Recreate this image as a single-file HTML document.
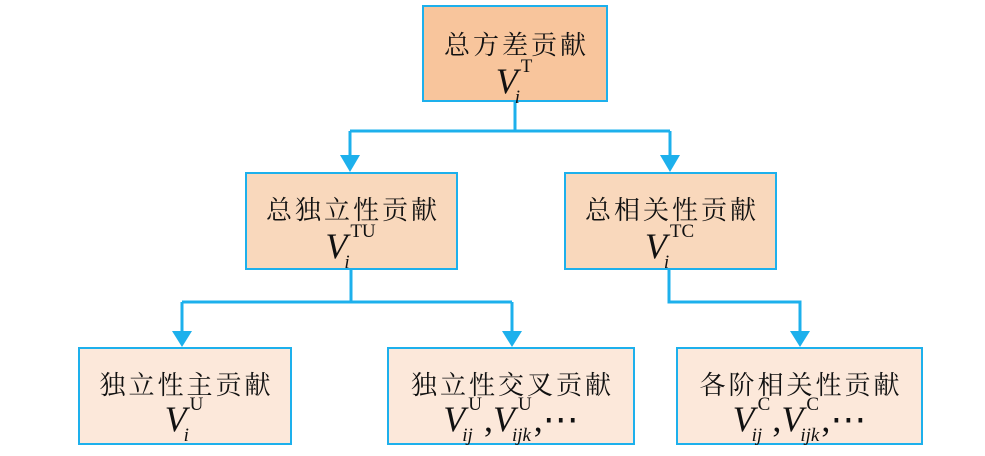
<!DOCTYPE html>
<html><head><meta charset="utf-8"><style>
body{margin:0;width:985px;height:456px;background:#fff;position:relative;overflow:hidden}
.b{position:absolute;box-sizing:border-box;border:2.5px solid #1DB0EC;text-align:center;font-family:"Noto Serif CJK SC","Liberation Serif",serif;color:#111}
.cn{position:absolute;left:0;right:0;font-size:26px;line-height:30px;letter-spacing:3px;text-indent:3px}
.m{position:absolute;left:0;right:0;font-family:"Liberation Serif",serif;font-size:36px;line-height:40px;white-space:nowrap}
.m i{font-style:italic}
.s{display:inline-block;vertical-align:top;text-align:left;position:relative;height:40px;font-size:19px;line-height:19px;margin-left:3px;margin-right:2px}
.s .u{display:block;margin-top:-4px;font-style:normal}
.s .d{display:block;margin-top:12px;font-style:italic;margin-left:-6px}
</style></head><body>
<svg width="985" height="456" style="position:absolute;left:0;top:0">
<g stroke="#1DB0EC" stroke-width="3" fill="none">
<path d="M515 102V131M350 131H670M350 131V158M670 131V158"/>
<path d="M351 270V302M182 302H512M182 302V333M512 302V333"/>
<path d="M669 270V302H800V333"/>
</g>
<g fill="#1DB0EC">
<path d="M340 155H360L350 172Z"/><path d="M660 155H680L670 172Z"/>
<path d="M172 331H192L182 347Z"/><path d="M502 331H522L512 347Z"/><path d="M790 331H810L800 347Z"/>
</g>
</svg>
<div class="b" style="left:422px;top:5px;width:186px;height:97px;background:#F8C59C">
<div class="cn" style="top:22px">总方差贡献</div>
<div class="m" style="top:54px"><i>V</i><span class="s"><span class="u">T</span><span class="d">i</span></span></div></div>
<div class="b" style="left:245px;top:172px;width:213px;height:98px;background:#F9D8BC">
<div class="cn" style="top:20px">总独立性贡献</div>
<div class="m" style="top:52px"><i>V</i><span class="s"><span class="u">TU</span><span class="d">i</span></span></div></div>
<div class="b" style="left:564px;top:172px;width:213px;height:98px;background:#F9D8BC">
<div class="cn" style="top:20px">总相关性贡献</div>
<div class="m" style="top:52px"><i>V</i><span class="s"><span class="u">TC</span><span class="d">i</span></span></div></div>
<div class="b" style="left:78px;top:347px;width:214px;height:98px;background:#FCE8DA">
<div class="cn" style="top:20px">独立性主贡献</div>
<div class="m" style="top:50px"><i>V</i><span class="s"><span class="u">U</span><span class="d">i</span></span></div></div>
<div class="b" style="left:387px;top:347px;width:248px;height:98px;background:#FCE8DA">
<div class="cn" style="top:20px">独立性交叉贡献</div>
<div class="m" style="top:50px"><i>V</i><span class="s"><span class="u">U</span><span class="d">ij</span></span>,<i>V</i><span class="s"><span class="u">U</span><span class="d">ijk</span></span>,⋯</div></div>
<div class="b" style="left:676px;top:347px;width:247px;height:98px;background:#FCE8DA">
<div class="cn" style="top:20px">各阶相关性贡献</div>
<div class="m" style="top:50px"><i>V</i><span class="s"><span class="u">C</span><span class="d">ij</span></span>,<i>V</i><span class="s"><span class="u">C</span><span class="d">ijk</span></span>,⋯</div></div>
</body></html>
